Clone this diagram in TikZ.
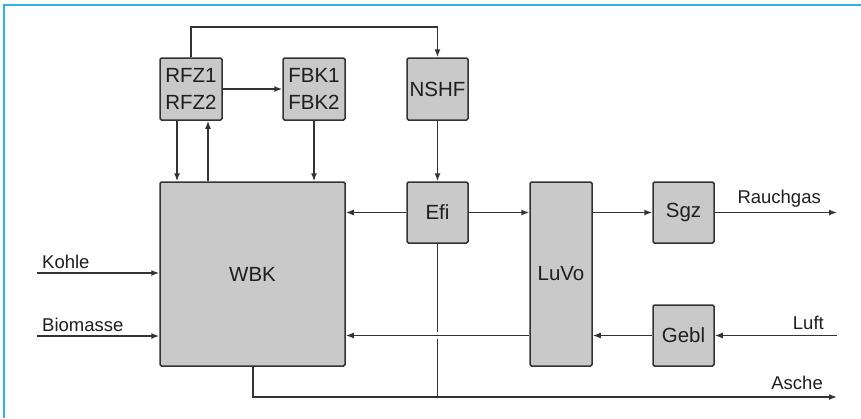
\documentclass[tikz,border=0pt]{standalone}
\usepackage{fontspec}
\setmainfont{Liberation Sans}
\usetikzlibrary{arrows.meta}
\definecolor{framecyan}{HTML}{2BB5E0}
\definecolor{boxfill}{HTML}{C9C9C9}
\definecolor{linec}{HTML}{333333}
\definecolor{textc}{HTML}{1E1E1E}
\tikzset{
  blk/.style={draw=linec, fill=boxfill, line width=1.5pt, rounded corners=1.5pt,
    inner sep=0pt, text=textc, align=center, font=\fontsize{20.5}{26.5}\selectfont},
  conn/.style={draw=linec, line width=1.5pt},
  arr/.style={conn, -{Latex[length=8pt,width=6pt]}},
  lbl/.style={text=textc, font=\fontsize{18.5}{22}\selectfont, inner sep=0pt},
}
\begin{document}
\begin{tikzpicture}[x=1pt,y=-1pt]
\useasboundingbox (0,0) rectangle (861,418);
% frame
\draw[framecyan, line width=1.8pt] (861,5) -- (4,5) -- (4,418);

% blocks
\node[blk, minimum width=62pt, minimum height=62pt] (rfz) at (191,89) {RFZ1\\RFZ2};
\node[blk, minimum width=62pt, minimum height=62pt] (fbk) at (314,89) {FBK1\\FBK2};
\node[blk, minimum width=61pt, minimum height=62pt] (nshf) at (437.5,89) {NSHF};
\node[blk, minimum width=185pt, minimum height=184pt] (wbk) at (252.5,274) {WBK};
\node[blk, minimum width=61pt, minimum height=61pt] (efi) at (437.5,212.5) {Efi};
\node[blk, minimum width=62pt, minimum height=184pt] (luvo) at (561,274) {LuVo};
\node[blk, minimum width=61pt, minimum height=61pt] (sgz) at (683.5,212.5) {Sgz};
\node[blk, minimum width=61pt, minimum height=61pt] (gebl) at (683.5,335.5) {Gebl};

% free ends
\coordinate (top) at (0,27);
\coordinate (kin) at (37,273);
\coordinate (bin) at (37,336);
\coordinate (rgout) at (837,212.5);
\coordinate (luin) at (837,335.5);
\coordinate (asout) at (837,397);

% top connections
\draw[arr] (rfz.north) -- (rfz.north |- top) -| (nshf.north);
\draw[arr] (rfz.east) -- (fbk.west);
\draw[arr] ([xshift=-14pt]rfz.south) -- ([xshift=-14pt]rfz.south |- wbk.north);
\draw[arr] ([xshift=17pt]rfz.south |- wbk.north) -- ([xshift=17pt]rfz.south);
\draw[arr] (fbk.south) -- (fbk.south |- wbk.north);
\draw[arr] (nshf.south) -- (efi.north);

% middle
\draw[arr] (efi.west) -- (efi.west -| wbk.east);
\draw[arr] (efi.east) -- (efi.east -| luvo.west);
\draw[arr] (sgz.west -| luvo.east) -- (sgz.west);
\draw[arr] (sgz.east) -- (rgout);
\draw[arr] (luin) -- (gebl.east);
\draw[arr] (gebl.west) -- (gebl.west -| luvo.east);
\draw[arr] (luvo.west |- gebl.west) -- (wbk.east |- gebl.west);

% inputs
\draw[arr] (kin) -- (kin -| wbk.west);
\draw[arr] (bin) -- (bin -| wbk.west);

% ash
\coordinate (cross) at (efi.south |- gebl.west);
\draw[arr] ([xshift=0.5pt]wbk.south) |- (asout);
\draw[conn] (efi.south) -- ([yshift=3.5pt]cross);
\draw[conn] ([yshift=-3.5pt]cross) -- (efi.south |- asout);

% labels
\node[lbl, anchor=base west] (lk) at (42,268) {Kohle};
\node[lbl, anchor=base west] (lb) at (42,331) {Biomasse};
\node[lbl, anchor=base east] (lr) at (821,203) {Rauchgas};
\node[lbl, anchor=base east] (ll) at (824,329) {Luft};
\node[lbl, anchor=base east] (la) at (823,389) {Asche};
\end{tikzpicture}
\end{document}
